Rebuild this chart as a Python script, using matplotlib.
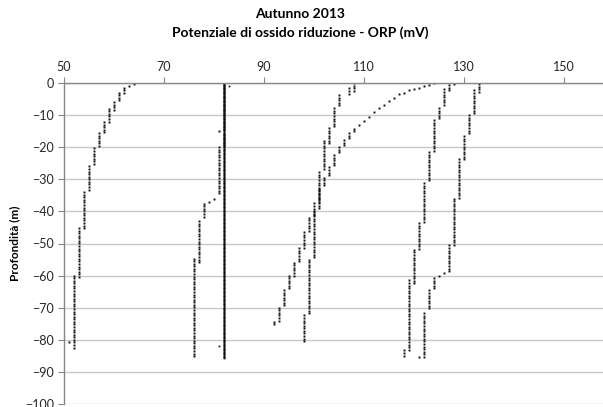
import numpy as np
import matplotlib
matplotlib.use("Agg")
import matplotlib.pyplot as plt

plt.rcParams['font.family'] = ['Lato', 'DejaVu Sans']

# ORP profiles stored as runs: constant reading (mV) between a top and bottom depth (m)
a_orp = [64, 63, 62, 61, 60, 59, 58, 57, 56, 55, 54, 53, 52, 51]
a_top = [0.3, 1.0, 1.5, 3.0, 6.0, 8.0, 12.2, 15.6, 20.4, 26.0, 34.0, 45.2, 60.0, 80.8]
a_bot = [0.3, 1.0, 3.2, 5.4, 8.5, 12.0, 15.7, 20.0, 25.6, 33.4, 45.6, 61.0, 82.7, 80.8]

b_orp = [82, 83, 81]
b_top = [0.0, 1.0, 82.0]
b_bot = [85.8, 1.0, 82.0]

c_orp = [82, 81, 82, 81, 80, 79, 78, 77, 76]
c_top = [0.0, 15.0, 16.2, 20.0, 36.0, 37.0, 37.6, 43.0, 54.7]
c_bot = [14.4, 15.6, 19.4, 35.0, 36.0, 37.0, 42.0, 56.0, 85.8]

d_orp = [108, 107, 105, 104, 103, 102, 101, 100, 99, 98, 97, 96, 95, 94, 93, 92]
d_top = [0.0, 1.7, 3.8, 7.9, 14.0, 18.0, 27.8, 40.2, 42.0, 46.5, 51.5, 56.0, 60.0, 64.5, 70.0, 74.3]
d_bot = [2.8, 4.0, 7.6, 13.8, 19.4, 27.4, 39.7, 41.6, 46.5, 51.5, 55.8, 60.0, 64.5, 70.0, 74.5, 75.8]

e_orp = [124, 123, 122, 121, 120, 119, 118, 117, 116, 115, 114, 113, 112, 111,
         110, 109, 108, 107, 106, 105, 104, 103, 102, 101, 100, 99, 98]
e_top = [0.0, 0.7, 1.0, 1.5, 2.0, 2.3, 3.0, 3.5, 4.6, 5.6, 7.0, 7.9, 9.1, 10.6,
         11.8, 13.2, 14.2, 15.6, 17.8, 20.0, 22.5, 26.3, 29.5, 33.0, 37.5, 55.0, 72.4]
e_bot = [0.0, 0.7, 1.0, 1.5, 2.0, 2.3, 3.0, 3.5, 4.6, 5.6, 7.0, 7.9, 9.1, 10.6,
         11.8, 13.2, 15.6, 17.8, 19.4, 21.9, 26.3, 29.4, 32.5, 37.0, 55.0, 72.0, 81.1]

g_orp = [128, 127, 126, 125, 124, 123, 122, 121, 120, 119, 118]
g_top = [0.4, 0.7, 2.0, 7.8, 11.6, 21.5, 31.2, 43.7, 52.0, 61.5, 83.3]
g_bot = [0.4, 2.3, 7.5, 11.6, 21.5, 30.3, 43.7, 52.0, 63.0, 83.3, 85.0]

h_orp = [133, 132, 131, 130, 129, 128, 127, 126, 125, 124, 123, 122, 121]
h_top = [0.4, 2.3, 10.0, 16.6, 23.8, 36.0, 50.6, 59.3, 60.0, 60.8, 64.6, 71.7, 85.4]
h_bot = [2.8, 10.0, 16.3, 23.8, 36.0, 51.0, 59.0, 59.3, 60.0, 64.0, 70.8, 85.4, 85.4]

x_ticks = [50, 70, 90, 110, 130, 150]
y_ticks = list(range(0, -101, -10))


def expand(orp, top, bot, step):
    # one sample every `step` metres inside each run
    xs, ds = [], []
    for v, t, b in zip(orp, top, bot):
        d = np.arange(t, b + 1e-6, step)
        xs.extend([v] * len(d))
        ds.extend(d)
    return np.array(xs), -np.array(ds)


profiles = [
    (a_orp, a_top, a_bot, 0.8, 1.4),
    (b_orp, b_top, b_bot, 0.25, 1.25),
    (c_orp, c_top, c_bot, 0.8, 1.4),
    (d_orp, d_top, d_bot, 0.8, 1.4),
    (e_orp, e_top, e_bot, 0.8, 1.4),
    (g_orp, g_top, g_bot, 0.8, 1.4),
    (h_orp, h_top, h_bot, 0.8, 1.4),
]

fig = plt.figure(figsize=(6.03, 4.07), dpi=100)
# plot area runs past the right edge of the image
ax = fig.add_axes([64 / 603, 3 / 407, 550 / 603, 321 / 407])

for orp, top, bot, step, ms in profiles:
    x, y = expand(orp, top, bot, step)
    ax.plot(x, y, linestyle='none', marker='s', markersize=ms,
            color='#111111', markeredgewidth=0)

ax.set_xlim(50, 160)
ax.set_ylim(-100, 0)
ax.set_xticks(x_ticks)
ax.set_yticks(y_ticks)
ax.xaxis.tick_top()
ax.tick_params(axis='x', direction='out', length=4, color='#868686',
               labelsize=9, labelcolor='#262626', pad=3)
ax.tick_params(axis='y', direction='out', length=4, color='#868686',
               labelsize=9, labelcolor='#262626', pad=3)

ax.grid(axis='y', color='#c8c8c8', linewidth=1)
ax.set_axisbelow(True)
for side in ['right', 'bottom']:
    ax.spines[side].set_visible(False)
for side in ['top', 'left']:
    ax.spines[side].set_color('#868686')
    ax.spines[side].set_linewidth(1)

ax.set_ylabel('Profondità (m)', fontsize=8.5, fontweight='bold', labelpad=4)

fig.text(300 / 603, 1 - 14 / 407, 'Autunno 2013', ha='center', va='center',
         fontsize=10, fontweight='bold')
fig.text(300 / 603, 1 - 33 / 407, 'Potenziale di ossido riduzione - ORP (mV)',
         ha='center', va='center', fontsize=10, fontweight='bold')

fig.savefig('out.png', dpi=100)
